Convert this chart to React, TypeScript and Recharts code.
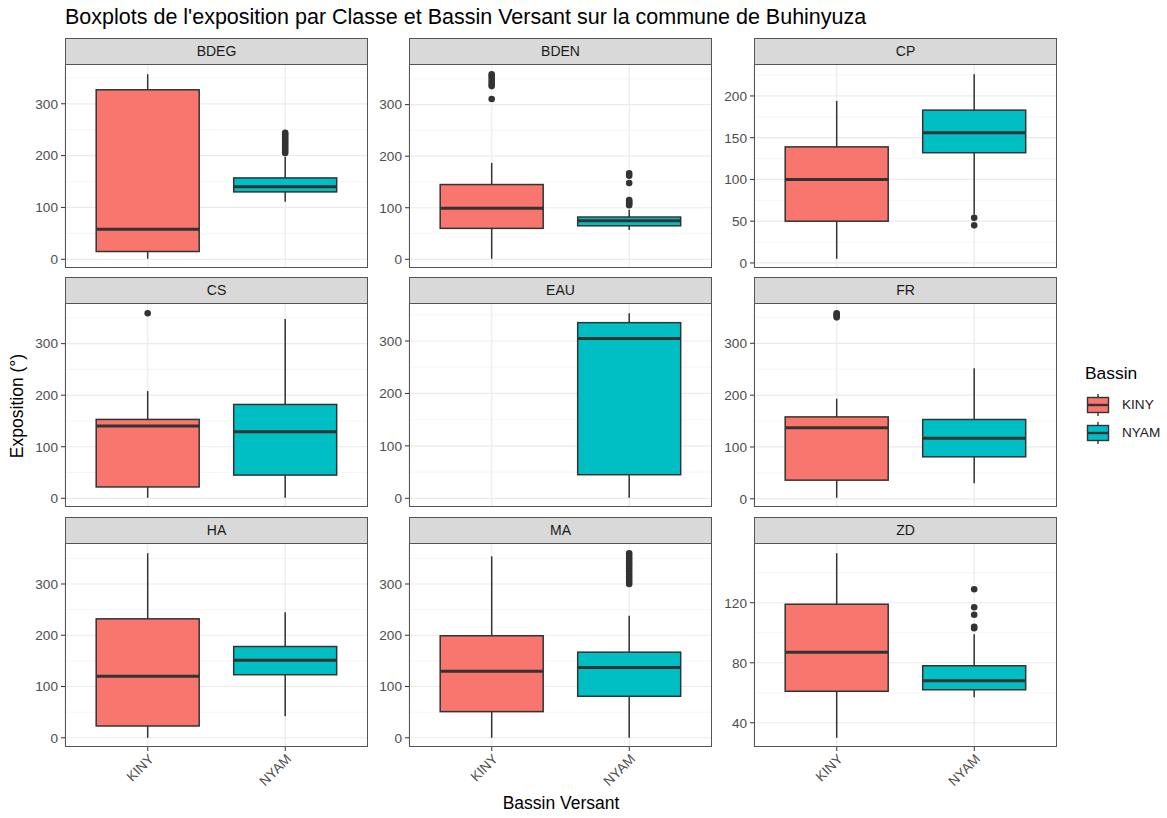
import React from 'react';
import {
  ComposedChart,
  Bar,
  XAxis,
  YAxis,
  CartesianGrid,
} from 'recharts';

const classes = ['BDEG', 'BDEN', 'CP', 'CS', 'EAU', 'FR', 'HA', 'MA', 'ZD'];
const bassins = ['KINY', 'NYAM'];
const bassinColors = ['#F8766D', '#00BFC4'];

// [lower whisker, Q1, median, Q3, upper whisker] per class
const kinyBox: (number[] | null)[] = [
  [1, 15, 58, 327, 357],
  [1, 60, 99, 145, 187],
  [5, 50, 100, 139, 194],
  [1, 22, 140, 153, 208],
  null,
  [2, 36, 137, 158, 193],
  [0, 23, 120, 232, 360],
  [0, 51, 130, 199, 354],
  [30, 61, 87, 119, 153],
];
const nyamBox: (number[] | null)[] = [
  [111, 130, 140, 157, 198],
  [57, 65, 75, 82, 96],
  [58, 132, 156, 183, 226],
  [1, 45, 129, 182, 348],
  [1, 45, 305, 335, 353],
  [30, 81, 117, 153, 252],
  [42, 123, 151, 178, 245],
  [0, 81, 137, 167, 238],
  [57, 62, 68, 78, 99],
];

const kinyOutliers = [
  [],
  [311, 336, 340, 345, 350, 355, 359],
  [],
  [359],
  [],
  [350, 353, 356, 358],
  [],
  [],
  [],
];
const nyamOutliers = [
  [205, 209, 213, 217, 221, 225, 229, 233, 237, 241, 244],
  [105, 108, 112, 115, 148, 162, 167],
  [54, 45],
  [],
  [],
  [],
  [],
  [300, 305, 310, 315, 320, 325, 330, 335, 340, 345, 350, 355, 360],
  [103, 104, 112, 117, 129],
];

const yTicks = [
  [0, 100, 200, 300],
  [0, 100, 200, 300],
  [0, 50, 100, 150, 200],
  [0, 100, 200, 300],
  [0, 100, 200, 300],
  [0, 100, 200, 300],
  [0, 100, 200, 300],
  [0, 100, 200, 300],
  [40, 80, 120],
];
const yMinor = [
  [50, 150, 250, 350],
  [50, 150, 250, 350],
  [25, 75, 125, 175, 225],
  [50, 150, 250, 350],
  [50, 150, 250, 350],
  [50, 150, 250, 350],
  [50, 150, 250, 350],
  [50, 150, 250, 350],
  [60, 100, 140],
];

// layout
const colX = [65, 409, 754];
const rowTop = [38, 277, 517];
const PW = 303;
const PH = 203;
const STRIP = 27;
const YW = 45;
const XH = 60;
const PAD = 8; // room so edge tick labels are not clipped
const FONT = '"Liberation Sans", Arial, Helvetica, sans-serif';
const TICK_FS = 13.6;

const BoxShape = (props: any) => {
  const { x, y, width, height, payload } = props;
  const b = payload.box;
  if (!b) return null;
  const [lo, q1, med, q3, hi] = b;
  const top = Math.min(y, y + height);
  const h = Math.abs(height);
  const toY = (v: number) => top + ((hi - v) / (hi - lo)) * h;
  const cx = x + width / 2;
  const fill = bassinColors[bassins.indexOf(payload.name)];
  return (
    <g>
      <line x1={cx} x2={cx} y1={toY(hi)} y2={toY(q3)} stroke="#333333" strokeWidth={1.5} />
      <line x1={cx} x2={cx} y1={toY(q1)} y2={toY(lo)} stroke="#333333" strokeWidth={1.5} />
      <rect
        x={x}
        y={toY(q3)}
        width={width}
        height={toY(q1) - toY(q3)}
        fill={fill}
        stroke="#333333"
        strokeWidth={1.5}
      />
      <line x1={x} x2={x + width} y1={toY(med)} y2={toY(med)} stroke="#333333" strokeWidth={3} />
      {payload.out.map((v: number, i: number) => (
        <circle key={i} cx={cx} cy={toY(v)} r={3.3} fill="#333333" />
      ))}
    </g>
  );
};

function Panel({ k }: { k: number }) {
  const row = Math.floor(k / 3);
  const col = k % 3;
  const bottom = row === 2;
  const data = bassins.map((name, i) => {
    const box = (i === 0 ? kinyBox : nyamBox)[k];
    const out = (i === 0 ? kinyOutliers : nyamOutliers)[k];
    return { name, box, out, range: box ? [box[0], box[4]] : null };
  });
  const vals: number[] = [];
  data.forEach((d) => {
    if (d.box) vals.push(d.box[0], d.box[4]);
    d.out.forEach((v) => vals.push(v));
  });
  const lo = Math.min(...vals);
  const hi = Math.max(...vals);
  const pad = (hi - lo) * 0.05;
  const left = colX[col];
  const top = rowTop[row];

  return (
    <>
      <div
        style={{
          position: 'absolute',
          left,
          top,
          width: PW,
          height: STRIP,
          boxSizing: 'border-box',
          background: '#D9D9D9',
          border: '1px solid #555555',
          color: '#1A1A1A',
          fontSize: 14,
          lineHeight: `${STRIP - 2}px`,
          textAlign: 'center',
        }}
      >
        {classes[k]}
      </div>
      <div style={{ position: 'absolute', left: left - YW, top: top + STRIP - PAD }}>
        <ComposedChart
          width={YW + PW}
          height={PH + 2 * PAD + (bottom ? XH : 0)}
          data={data}
          margin={{ top: PAD, right: 0, bottom: bottom ? PAD : PAD, left: 0 }}
          barCategoryGap="12.5%"
          style={{ overflow: 'visible' }}
        >
          <CartesianGrid
            horizontalValues={yMinor[k]}
            vertical={false}
            stroke="#F2F2F2"
            strokeWidth={0.7}
          />
          <CartesianGrid horizontalValues={yTicks[k]} stroke="#EBEBEB" strokeWidth={1.2} />
          <XAxis
            dataKey="name"
            type="category"
            hide={!bottom}
            height={XH}
            padding={{ left: 14, right: 14 }}
            axisLine={false}
            tickLine={{ stroke: '#333333' }}
            tickSize={4}
            angle={-45}
            textAnchor="end"
            interval={0}
            tick={{ fill: '#4D4D4D', fontSize: TICK_FS }}
          />
          <YAxis
            type="number"
            domain={[lo - pad, hi + pad]}
            ticks={yTicks[k]}
            interval={0}
            width={YW}
            axisLine={false}
            tickLine={{ stroke: '#333333' }}
            tickSize={4}
            tickMargin={3}
            tick={{ fill: '#4D4D4D', fontSize: TICK_FS }}
          />
          <Bar dataKey="range" shape={BoxShape} isAnimationActive={false} />
        </ComposedChart>
      </div>
      <div
        style={{
          position: 'absolute',
          left,
          top: top + STRIP - 1,
          width: PW,
          height: PH + 1,
          boxSizing: 'border-box',
          border: '1px solid #555555',
          pointerEvents: 'none',
        }}
      />
    </>
  );
}

function LegendKey({ color }: { color: string }) {
  return (
    <svg width={24} height={24} style={{ position: 'absolute', left: 0, top: 0 }}>
      <line x1={12} x2={12} y1={1} y2={23} stroke="#333333" strokeWidth={1.4} />
      <rect x={1.5} y={4.5} width={21} height={15} fill={color} stroke="#333333" strokeWidth={1.4} />
      <line x1={1.5} x2={22.5} y1={12} y2={12} stroke="#333333" strokeWidth={2.4} />
    </svg>
  );
}

export default function App() {
  return (
    <div
      style={{
        position: 'absolute',
        left: 0,
        top: 0,
        width: 1167,
        height: 818,
        background: '#ffffff',
        fontFamily: FONT,
        overflow: 'hidden',
      }}
    >
      <div
        style={{
          position: 'absolute',
          left: 65,
          top: 7,
          fontSize: 21.5,
          lineHeight: 1,
          color: '#000000',
          whiteSpace: 'nowrap',
        }}
      >
        Boxplots de l'exposition par Classe et Bassin Versant sur la commune de Buhinyuza
      </div>

      {classes.map((c, k) => (
        <Panel key={c} k={k} />
      ))}

      <div
        style={{
          position: 'absolute',
          left: 18,
          top: 406,
          fontSize: 17.5,
          lineHeight: 1,
          color: '#000000',
          whiteSpace: 'nowrap',
          transform: 'translate(-50%, -50%) rotate(-90deg)',
        }}
      >
        Exposition (°)
      </div>
      <div
        style={{
          position: 'absolute',
          left: 561,
          top: 795,
          fontSize: 17.5,
          lineHeight: 1,
          color: '#000000',
          whiteSpace: 'nowrap',
          transform: 'translateX(-50%)',
        }}
      >
        Bassin Versant
      </div>

      <div
        style={{
          position: 'absolute',
          left: 1085,
          top: 365,
          fontSize: 17.4,
          lineHeight: 1,
          color: '#000000',
        }}
      >
        Bassin
      </div>
      {bassins.map((b, i) => (
        <div key={b} style={{ position: 'absolute', left: 1086, top: 393 + i * 28, width: 80, height: 24 }}>
          <LegendKey color={bassinColors[i]} />
          <span
            style={{
              position: 'absolute',
              left: 36,
              top: 12,
              transform: 'translateY(-50%)',
              fontSize: 13.6,
              lineHeight: 1,
              color: '#1A1A1A',
            }}
          >
            {b}
          </span>
        </div>
      ))}
    </div>
  );
}
